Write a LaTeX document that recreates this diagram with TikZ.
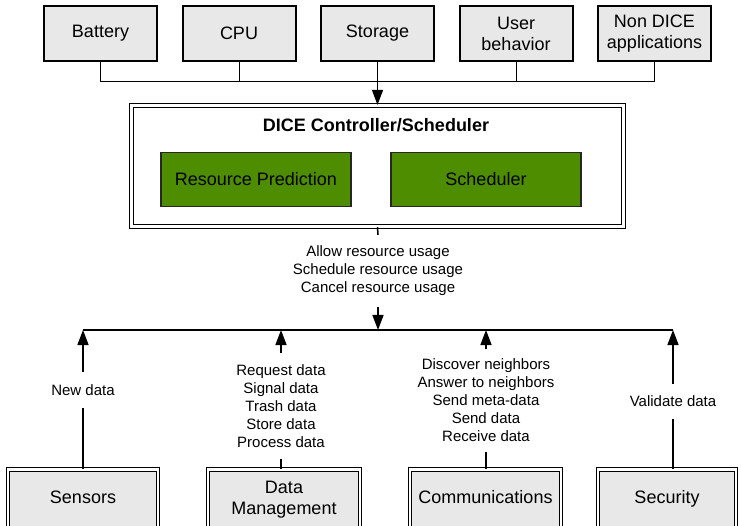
\documentclass[tikz,border=0pt]{standalone}
\usepackage{fontspec}
\setmainfont{Liberation Sans}
\usetikzlibrary{arrows.meta,positioning}
\definecolor{boxgray}{HTML}{E8E8E8}
\definecolor{dicegreen}{HTML}{4E8C00}

\begin{document}
\begin{tikzpicture}[x=1pt,y=-1pt,>={Triangle[width=11pt,length=15pt]},thin]
\tikzstyle{every node}=[font=\fontsize{18}{21}\selectfont, align=center]
\tikzstyle{res}=[rectangle,draw,line width=2pt,fill=boxgray,minimum width=113pt,minimum height=55pt,inner sep=0pt]
\tikzstyle{unit}=[rectangle,draw,line width=1.2pt,double=white,double distance=2.4pt,fill=boxgray,minimum height=64pt,inner sep=0pt,text depth=8pt]
\tikzstyle{part}=[rectangle,draw=black!85,line width=1.5pt,fill=dicegreen,minimum width=190pt,minimum height=54pt]
\tikzstyle{msg}=[font=\fontsize{15}{18}\selectfont,inner xsep=0pt]
\tikzstyle{flow}=[line width=1.5pt]

\useasboundingbox (0,0) rectangle (741,526);

% resources
\node[res]		(Bat) at (100.5,33.5) {Battery};
\node[res]		(CPU) [right of=Bat,node distance=138.5pt] {CPU};
\node[res]		(Sto) [right of=CPU,node distance=138.5pt] {Storage};
\node[res]		(Usr) [right of=Sto,node distance=138.5pt] {User\\behavior};
\node[res]		(NDA) [right of=Usr,node distance=138.5pt] {Non DICE\\applications};

% controller
\node[rectangle,draw,line width=1.2pt,double=white,double distance=2.4pt,minimum width=492pt,minimum height=121pt] (DC) at (377.5,166) {};
\node[font=\bfseries\fontsize{18}{21}\selectfont] (DT) at (376,125) {DICE Controller/Scheduler};
\node[part]		(RP) at (256,179.5) {Resource Prediction};
\node[part]		(Sch) [right of=RP,node distance=230pt] {Scheduler};

% units
\node[unit,minimum width=150pt]	(Sen) at (83,501.4) {Sensors};
\node[unit,minimum width=152pt]	(DM) at (284,501.4) {Data\\Management};
\node[unit,minimum width=151pt]	(Com) at (485.5,501.4) {Communications};
\node[unit,minimum width=138pt]	(Sec) at (667,501.4) {Security};

% messages
\node[msg,inner ysep=11pt]	(Cmd) at (378,271) {Allow resource usage\\Schedule resource usage\\Cancel resource usage};
\node[msg,inner ysep=12.5pt]	(ND) at (83,390) {New data};
\node[msg,inner ysep=11pt]	(DMm) at (281,406) {Request data\\Signal data\\Trash data\\Store data\\Process data};
\node[msg,inner ysep=9.5pt]	(CMm) at (486,400.5) {Discover neighbors\\Answer to neighbors\\Send meta-data\\Send data\\Receive data};
\node[msg,inner ysep=12pt]	(VD) at (673,401.5) {Validate data};

\coordinate (TBus) at (377.5,81);
\coordinate (BBus) at (378,330);

\draw[line width=0.8pt] (Bat.south) |- (NDA.south |- TBus) -- (NDA.south);
\draw[line width=0.8pt] (CPU.south) -- (CPU.south |- TBus);
\draw[line width=0.8pt] (Usr.south) -- (Usr.south |- TBus);
\draw[->,line width=1.2pt] (Sto.south) -- (DC.north);

\draw[flow] (DC.south) -- (Cmd.north);
\draw[flow,->] (Cmd.south) -- (BBus);
\draw[flow] (ND.north |- BBus) -- (VD.north |- BBus);

\path[flow]
(Sen.north) edge (ND.south)
(ND.north) edge[->] (ND.north |- BBus)
(DMm.south |- DM.north) edge (DMm.south)
(DMm.north) edge[->] (DMm.north |- BBus)
(CMm.south |- Com.north) edge (CMm.south)
(CMm.north) edge[->] (CMm.north |- BBus)
(VD.south |- Sec.north) edge (VD.south)
(VD.north) edge[->] (VD.north |- BBus)
;
\end{tikzpicture}
\end{document}
